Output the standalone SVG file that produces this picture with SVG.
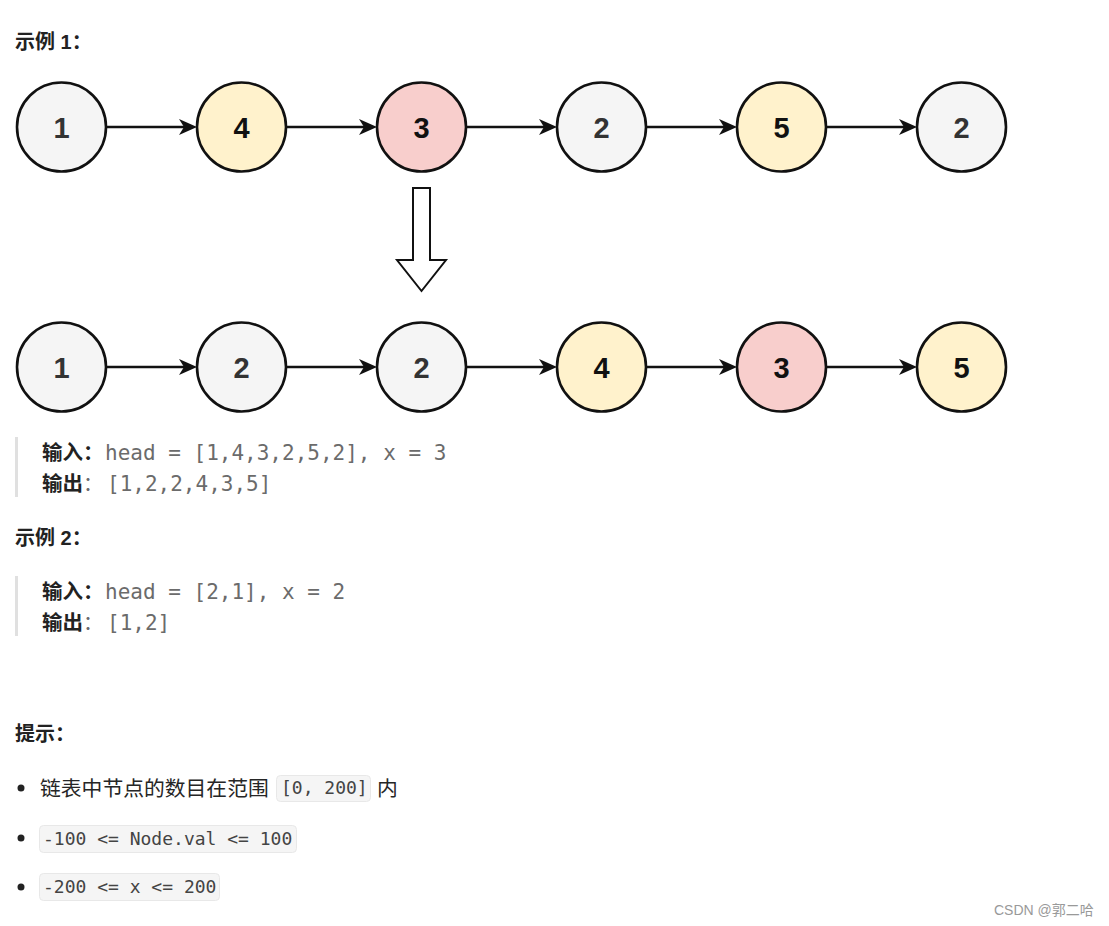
<svg xmlns="http://www.w3.org/2000/svg" width="1109" height="926" viewBox="0 0 1109 926">
<style>
.nd{stroke:#111;stroke-width:2.6}
.g{fill:#f5f5f5}.y{fill:#fff2cc}.r{fill:#f8cecc}
.nt{font-family:"Liberation Sans",Arial,sans-serif;font-weight:bold;font-size:29px;text-anchor:middle}
.ntg{fill:#333}.ntk{fill:#111}
.edge{stroke:#111;stroke-width:2.5;fill:none}
.h{font-family:"Liberation Sans","Noto Sans CJK SC",sans-serif;font-weight:bold;font-size:20px;fill:#222}
.lb{font-family:"Noto Sans CJK SC",sans-serif;font-weight:bold;font-size:20.5px;fill:#222}
.cd{font-family:"DejaVu Sans Mono","Liberation Mono",monospace;font-size:21px;fill:#6b6b6b}
.col{font-family:"Noto Sans CJK SC",sans-serif;font-size:20px;fill:#6b6b6b}
.tx{font-family:"Noto Sans CJK SC",sans-serif;font-size:20.8px;fill:#262626}
.ic{font-family:"DejaVu Sans Mono","Liberation Mono",monospace;font-size:18px;fill:#444}
.box{fill:#f5f5f5;stroke:#e8e8e8;stroke-width:1}
.bar{fill:#e0e0e0}
</style>
<defs>
<marker id="ah" markerUnits="userSpaceOnUse" viewBox="0 0 18 16" markerWidth="18" markerHeight="16" refX="9" refY="8" orient="auto">
<path d="M0,0 L18,8 L0,16 L5,8 Z" fill="#111"/>
</marker>
</defs>
<rect width="1109" height="926" fill="#fff"/>

<text class="h" x="15" y="49">示例 1：</text>

<g id="connectors">
<line class="edge" x1="106" y1="127" x2="188" y2="127" marker-end="url(#ah)"/>
<line class="edge" x1="286" y1="127" x2="368" y2="127" marker-end="url(#ah)"/>
<line class="edge" x1="466" y1="127" x2="548" y2="127" marker-end="url(#ah)"/>
<line class="edge" x1="646" y1="127" x2="728" y2="127" marker-end="url(#ah)"/>
<line class="edge" x1="826" y1="127" x2="908" y2="127" marker-end="url(#ah)"/>
<line class="edge" x1="106" y1="367" x2="188" y2="367" marker-end="url(#ah)"/>
<line class="edge" x1="286" y1="367" x2="368" y2="367" marker-end="url(#ah)"/>
<line class="edge" x1="466" y1="367" x2="548" y2="367" marker-end="url(#ah)"/>
<line class="edge" x1="646" y1="367" x2="728" y2="367" marker-end="url(#ah)"/>
<line class="edge" x1="826" y1="367" x2="908" y2="367" marker-end="url(#ah)"/>
</g>

<g id="a1"><circle class="nd g" cx="61.5" cy="127" r="44.5"/><text class="nt ntg" x="61.5" y="137.5">1</text></g>
<g id="a2"><circle class="nd y" cx="241.5" cy="127" r="44.5"/><text class="nt ntk" x="241.5" y="137.5">4</text></g>
<g id="a3"><circle class="nd r" cx="421.5" cy="127" r="44.5"/><text class="nt ntk" x="421.5" y="137.5">3</text></g>
<g id="a4"><circle class="nd g" cx="601.5" cy="127" r="44.5"/><text class="nt ntg" x="601.5" y="137.5">2</text></g>
<g id="a5"><circle class="nd y" cx="781.5" cy="127" r="44.5"/><text class="nt ntk" x="781.5" y="137.5">5</text></g>
<g id="a6"><circle class="nd g" cx="961.5" cy="127" r="44.5"/><text class="nt ntg" x="961.5" y="137.5">2</text></g>

<g id="bigarrow">
<path d="M413,188 L430,188 L430,260 L446,260 L421.5,291 L397,260 L413,260 Z" fill="#fff" stroke="#111" stroke-width="2" stroke-linejoin="miter"/>
</g>

<g id="b1"><circle class="nd g" cx="61.5" cy="367" r="44.5"/><text class="nt ntg" x="61.5" y="377.5">1</text></g>
<g id="b2"><circle class="nd g" cx="241.5" cy="367" r="44.5"/><text class="nt ntg" x="241.5" y="377.5">2</text></g>
<g id="b3"><circle class="nd g" cx="421.5" cy="367" r="44.5"/><text class="nt ntg" x="421.5" y="377.5">2</text></g>
<g id="b4"><circle class="nd y" cx="601.5" cy="367" r="44.5"/><text class="nt ntk" x="601.5" y="377.5">4</text></g>
<g id="b5"><circle class="nd r" cx="781.5" cy="367" r="44.5"/><text class="nt ntk" x="781.5" y="377.5">3</text></g>
<g id="b6"><circle class="nd y" cx="961.5" cy="367" r="44.5"/><text class="nt ntk" x="961.5" y="377.5">5</text></g>

<g id="ex1">
<rect class="bar" x="15" y="437" width="3" height="60"/>
<text class="lb" x="42" y="460">输入：</text>
<text class="cd" x="105" y="460">head = [1,4,3,2,5,2], x = 3</text>
<text class="lb" x="42" y="491">输出</text>
<text class="col" x="83" y="491">：</text>
<text class="cd" x="107" y="491">[1,2,2,4,3,5]</text>
</g>

<text class="h" x="15" y="545">示例 2：</text>

<g id="ex2">
<rect class="bar" x="15" y="576" width="3" height="60"/>
<text class="lb" x="42" y="599">输入：</text>
<text class="cd" x="105" y="599">head = [2,1], x = 2</text>
<text class="lb" x="42" y="630">输出</text>
<text class="col" x="83" y="630">：</text>
<text class="cd" x="107" y="630">[1,2]</text>
</g>

<text class="h" x="15" y="741">提示：</text>

<g id="tips">
<circle cx="21" cy="788" r="3.5" fill="#222"/>
<text class="tx" x="40" y="796">链表中节点的数目在范围</text>
<rect class="box" x="276.5" y="775.5" width="94" height="26" rx="4"/>
<text class="ic" x="281" y="794">[0, 200]</text>
<text class="tx" x="377" y="796">内</text>

<circle cx="21" cy="838" r="3.5" fill="#222"/>
<rect class="box" x="39.5" y="825.5" width="257" height="27" rx="4"/>
<text class="ic" x="43" y="845">-100 &lt;= Node.val &lt;= 100</text>

<circle cx="21" cy="887" r="3.5" fill="#222"/>
<rect class="box" x="39.5" y="873.5" width="180" height="27" rx="4"/>
<text class="ic" x="43" y="893">-200 &lt;= x &lt;= 200</text>
</g>

<text x="994" y="915" style="font-family:'Liberation Sans','Noto Sans CJK SC',sans-serif;font-size:14px;fill:#999">CSDN @郭二哈</text>
</svg>
